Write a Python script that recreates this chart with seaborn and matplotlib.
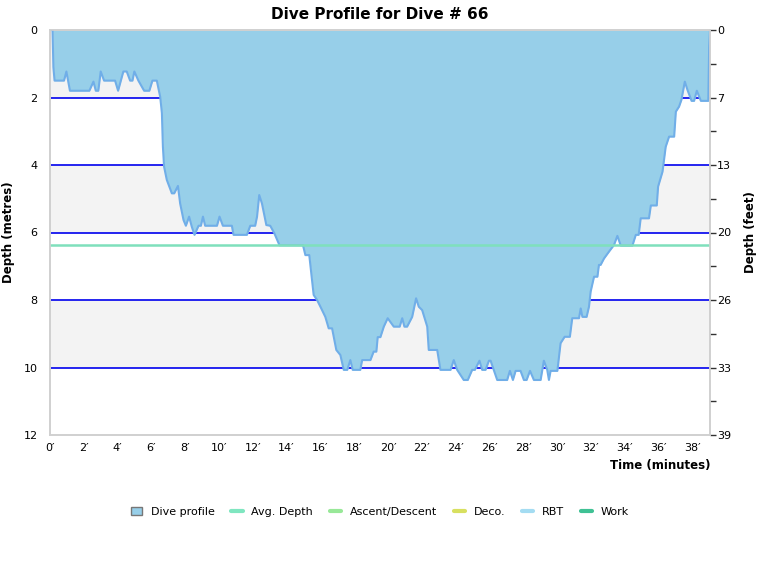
"""Dive profile chart for dive # 66 (depth vs time, metres / feet)."""
import matplotlib
matplotlib.use('Agg')
import matplotlib.pyplot as plt
import seaborn as sns
from matplotlib.patches import Patch
from matplotlib.lines import Line2D

# time in minutes, depth in metres
time_min = [0.0, 0.15, 0.2, 0.27, 0.83, 0.97, 1.18, 2.33, 2.57, 2.71, 2.86, 3.0, 3.2, 3.85,
            4.03, 4.34, 4.54, 4.74, 4.88, 4.99, 5.23, 5.57, 5.88, 6.06, 6.32, 6.52, 6.62,
            6.68, 6.75, 6.91, 7.21, 7.35, 7.57, 7.7, 7.9, 8.04, 8.23, 8.39, 8.55, 8.79, 8.93,
            9.05, 9.18, 9.88, 10.03, 10.23, 10.76, 10.86, 11.65, 11.85, 12.14, 12.25, 12.38,
            12.54, 12.8, 13.03, 13.27, 13.58, 14.97, 15.11, 15.34, 15.6, 15.8, 16.0, 16.29,
            16.49, 16.69, 16.94, 17.18, 17.38, 17.59, 17.77, 17.91, 18.36, 18.47, 18.96,
            19.15, 19.31, 19.39, 19.55, 19.75, 19.98, 20.34, 20.69, 20.84, 20.97, 21.13,
            21.43, 21.66, 21.82, 22.02, 22.32, 22.41, 22.91, 23.1, 23.7, 23.89, 24.09, 24.48,
            24.72, 24.98, 25.14, 25.41, 25.57, 25.77, 25.97, 26.07, 26.46, 27.05, 27.21,
            27.39, 27.55, 27.84, 28.04, 28.2, 28.4, 28.63, 29.03, 29.22, 29.42, 29.52, 29.62,
            30.02, 30.21, 30.45, 30.76, 30.9, 31.3, 31.4, 31.5, 31.75, 31.89, 31.99, 32.19,
            32.39, 32.48, 32.58, 32.78, 33.07, 33.37, 33.57, 33.77, 34.46, 34.66, 34.83,
            34.95, 35.44, 35.55, 35.9, 35.98, 36.24, 36.43, 36.63, 36.93, 37.03, 37.22,
            37.36, 37.56, 37.72, 37.96, 38.11, 38.27, 38.51, 38.8, 38.95, 39.0, 39.05]
depth_m = [0.0, 0.0, 1.1, 1.5, 1.5, 1.23, 1.8, 1.8, 1.53, 1.8, 1.8, 1.23, 1.5, 1.5,
           1.8, 1.23, 1.23, 1.5, 1.5, 1.23, 1.5, 1.8, 1.8, 1.5, 1.5, 1.98, 2.46,
           3.46, 4.05, 4.44, 4.84, 4.84, 4.62, 5.14, 5.63, 5.8, 5.53, 5.83, 6.07, 5.8, 5.8,
           5.53, 5.8, 5.8, 5.53, 5.8, 5.8, 6.07, 6.07, 5.8, 5.8, 5.53, 4.89,
           5.14, 5.78, 5.8, 6.02, 6.38, 6.38, 6.67, 6.67, 7.85, 8.0, 8.2, 8.5,
           8.84, 8.84, 9.48, 9.63, 10.07, 10.07, 9.78, 10.07, 10.07, 9.78, 9.78,
           9.53, 9.53, 9.1, 9.1, 8.79, 8.54, 8.79, 8.79, 8.54, 8.79, 8.79,
           8.5, 7.95, 8.2, 8.3, 8.79, 9.48, 9.48, 10.07, 10.07, 9.78, 10.07, 10.37,
           10.37, 10.07, 10.07, 9.8, 10.07, 10.07, 9.8, 9.8, 10.37, 10.37, 10.1,
           10.37, 10.1, 10.1, 10.37, 10.37, 10.1, 10.37, 10.37, 9.8, 10.07, 10.37, 10.1,
           10.1, 9.28, 9.09, 9.09, 8.54, 8.54, 8.25, 8.5, 8.5, 8.2, 7.75, 7.31,
           7.31, 6.96, 6.96, 6.77, 6.57, 6.37, 6.1, 6.39, 6.39, 6.07, 6.07,
           5.58, 5.58, 5.2, 5.2, 4.64, 4.2, 3.46, 3.16, 3.16, 2.42, 2.27,
           2.07, 1.53, 1.78, 2.1, 2.1, 1.8, 2.1, 2.1, 2.1, 0.5, 0.0]
avg_depth = 6.37

x_ticks = list(range(0, 39, 2))
x_labels = [f"{t}\u2032" for t in x_ticks]
y_ticks = list(range(0, 13, 2))
feet_labels = ['0', '7', '13', '20', '26', '33', '39']

legend_names = ['Dive profile', 'Avg. Depth', 'Ascent/Descent', 'Deco.', 'RBT', 'Work']
legend_colors = ['#97cfe9', '#7fe6c0', '#98e898', '#d8e060', '#a4dcf2', '#3fc194']

sns.set_style('white')
plt.rcParams['font.family'] = ['DejaVu Sans']
plt.rcParams.update({'text.color': 'black', 'axes.labelcolor': 'black',
                     'xtick.color': 'black', 'ytick.color': 'black'})

fig = plt.figure(figsize=(7.6, 5.8), dpi=100)
ax = fig.add_axes([50 / 760, 145 / 580, 660 / 760, 405 / 580])

# alternating bands and blue grid lines
for lo in (0, 4, 8):
    ax.axhspan(lo, lo + 2, color='#f3f3f3', zorder=0, lw=0)
for y in (2, 4, 6, 8, 10):
    ax.axhline(y, color='#0000ee', lw=1.2, zorder=1)

ax.fill_between(time_min, 0, depth_m, color='#97cfe9', lw=0, zorder=2)
sns.lineplot(x=time_min, y=depth_m, ax=ax, color='#70aee8', linewidth=1.5,
             estimator=None, sort=False, zorder=3)
ax.axhline(avg_depth, color='#7fe0bc', lw=1.8, zorder=4)

ax.set_xlim(0, 39.05)
ax.set_ylim(12, 0)
ax.set_xticks(x_ticks)
ax.set_xticklabels(x_labels)
ax.set_yticks(y_ticks)
ax.tick_params(axis='both', length=0, labelsize=8)
ax.tick_params(axis='y', pad=9)
ax.tick_params(axis='x', pad=6)
for s in ax.spines.values():
    s.set_color('#d0d0d0')
    s.set_linewidth(1.2)

ax.set_ylabel('Depth (metres)', fontweight='bold', fontsize=8.5)
ax.yaxis.set_label_coords(-0.053, 0.5)
ax.set_xlabel('Time (minutes)', fontweight='bold', fontsize=8.5, loc='right', labelpad=4)
ax.set_title('Dive Profile for Dive # 66', fontweight='bold', fontsize=11, pad=8)

# right axis in feet
ax2 = ax.twinx()
ax2.set_ylim(12, 0)
ax2.set_yticks(range(0, 13))
ax2.set_yticklabels([feet_labels[i // 2] if i % 2 == 0 else '' for i in range(13)])
ax2.tick_params(axis='y', length=4, width=1, color='#333333', labelsize=8, pad=1)
ax2.set_ylabel('Depth (feet)', fontweight='bold', fontsize=8.5)
ax2.yaxis.set_label_coords(1.052, 0.5)
for s in ax2.spines.values():
    s.set_color('#d0d0d0')
    s.set_linewidth(1.2)

handles = [Patch(facecolor=legend_colors[0], edgecolor='#777777', lw=1)]
handles += [Line2D([0], [0], color=c, lw=3) for c in legend_colors[1:]]
fig.legend(handles, legend_names, loc='center', bbox_to_anchor=(0.5, 1 - 512 / 580),
           ncol=6, frameon=False, fontsize=8, handlelength=1.0, handleheight=0.8,
           columnspacing=1.5, handletextpad=0.8)

plt.savefig('out.png', dpi=100)
